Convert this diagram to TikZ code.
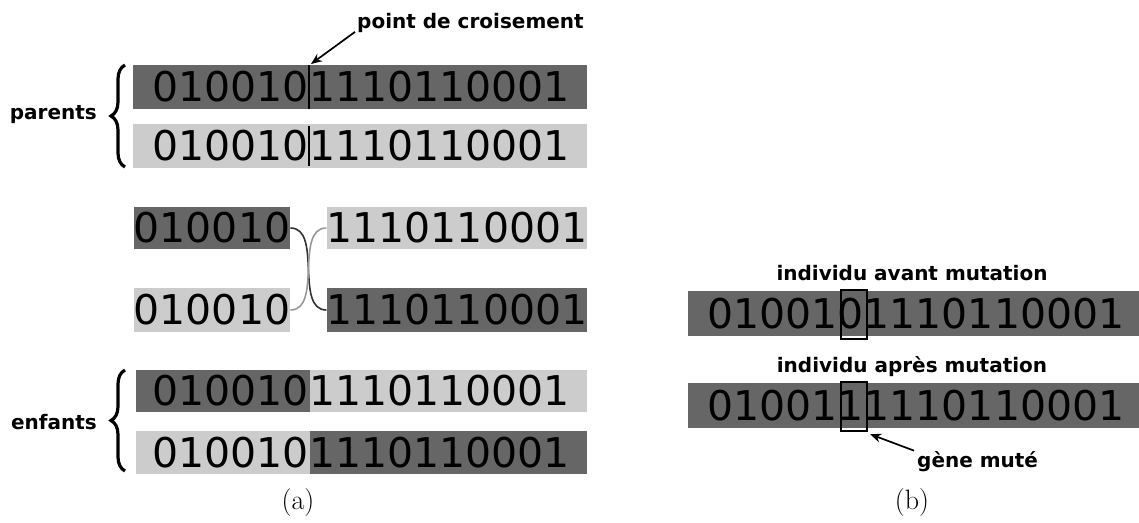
\documentclass[tikz,border=0pt]{standalone}
\usepackage{fontspec}
\setsansfont{DejaVu Sans}
\usetikzlibrary{decorations.pathreplacing,arrows.meta,calc}
\definecolor{darkbar}{HTML}{666666}
\definecolor{lightbar}{HTML}{CCCCCC}
\definecolor{curvedark}{HTML}{333333}
\definecolor{curvelight}{HTML}{999999}
\begin{document}
\begin{tikzpicture}[x=1pt,y=-1pt,
  bits/.style={font=\sffamily\fontsize{41}{41}\selectfont, inner sep=0pt, text=black},
  lbl/.style={font=\sffamily\bfseries\fontsize{20}{20}\selectfont, inner sep=0pt},
  captxt/.style={font=\rmfamily\fontsize{28}{28}\selectfont, inner sep=0pt},
  darkbox/.style={fill=darkbar, draw=none, inner sep=0pt, anchor=north west},
  lightbox/.style={fill=lightbar, draw=none, inner sep=0pt, anchor=north west},
  brc/.style={decorate, decoration={brace, amplitude=14pt, raise=0pt}, line width=3.2pt},
  ptr/.style={-{Stealth[length=11pt,width=9pt]}, line width=1.7pt},
  divline/.style={line width=2pt},
  genebox/.style={draw=black, line width=2.2pt, fill=none, inner sep=0pt, anchor=north west},
]
\useasboundingbox (0,0) rectangle (1139,522);

% ---------- parents ----------
\node[darkbox, minimum width=454pt, minimum height=44pt] (p1) at (133,65) {};
\node[lightbox, minimum width=454pt, minimum height=44pt] (p2) at (133,124) {};
\coordinate (d1) at (309,87);
\coordinate (d2) at (309,146);
\node[bits, anchor=east] (p1l) at (d1) {010010};
\node[bits, anchor=west] (p1r) at (d1) {1110110001};
\node[bits, anchor=east] (p2l) at (d2) {010010};
\node[bits, anchor=west] (p2r) at (d2) {1110110001};
\draw[divline] (309,65) -- (309,109);
\draw[divline] (309,126) -- (309,166);

\node[lbl, anchor=west] (pc) at (357,23) {point de croisement};
\coordinate (cp) at (311,64);
\draw[ptr] ($(pc.south west)+(-2,-1)$) -- (cp);

\draw[brc] (125,167) -- (125,65);
\node[lbl, anchor=east] (par) at (97,115) {parents};

% ---------- crossing ----------
\node[bits, fill=darkbar, minimum height=42pt, minimum width=156pt] (m1) at (212,228) {010010};
\node[bits, fill=lightbar, minimum height=42pt, minimum width=256pt] (m2) at (457,228) {1110110001};
\node[bits, fill=lightbar, minimum height=44pt, minimum width=156pt] (m3) at (212,310) {010010};
\node[bits, fill=darkbar, minimum height=44pt, minimum width=256pt] (m4) at (457,310) {1110110001};
\draw[curvedark, line width=1.6pt] (m1.east) .. controls ($(m1.east)+(32,0)$) and ($(m4.west)+(-32,0)$) .. (m4.west);
\draw[curvelight, line width=1.6pt] (m3.east) .. controls ($(m3.east)+(32,0)$) and ($(m2.west)+(-32,0)$) .. (m2.west);

% ---------- children ----------
\node[darkbox, minimum width=174pt, minimum height=42pt] (c1a) at (136,370) {};
\node[lightbox, minimum width=277pt, minimum height=42pt] (c1b) at (310,370) {};
\node[lightbox, minimum width=174pt, minimum height=43pt] (c2a) at (136,431) {};
\node[darkbox, minimum width=277pt, minimum height=43pt] (c2b) at (310,431) {};
\coordinate (e1) at (309,391);
\coordinate (e2) at (309,452.5);
\node[bits, anchor=east] (c1l) at (e1) {010010};
\node[bits, anchor=west] (c1r) at (e1) {1110110001};
\node[bits, anchor=east] (c2l) at (e2) {010010};
\node[bits, anchor=west] (c2r) at (e2) {1110110001};

\draw[brc] (125,471) -- (125,370);
\node[lbl, anchor=east] (enf) at (97,422) {enfants};

\node[captxt] (capa) at (298,503) {(a)};

% ---------- mutation ----------
\node[lbl] (avant) at (912,273) {individu avant mutation};
\node[darkbox, minimum width=451pt, minimum height=45pt] (r1) at (688,291) {};
\node[bits, anchor=west] (r1t) at (707,313.5) {0100101110110001};
\node[genebox, minimum width=26pt, minimum height=49pt] (g1) at (840,289) {};

\node[lbl] (apres) at (912,367) {individu après mutation};
\node[darkbox, minimum width=451pt, minimum height=45pt] (r2) at (688,383) {};
\node[bits, anchor=west] (r2t) at (707,405.5) {0100111110110001};
\node[genebox, minimum width=26pt, minimum height=49pt] (g2) at (840,381) {};

\node[lbl, anchor=west] (gm) at (917,462) {gène muté};
\draw[ptr] ($(gm.north west)+(-3,-1)$) -- ($(g2.south east)+(2,2)$);

\node[captxt] (capb) at (912,503) {(b)};
\end{tikzpicture}
\end{document}
